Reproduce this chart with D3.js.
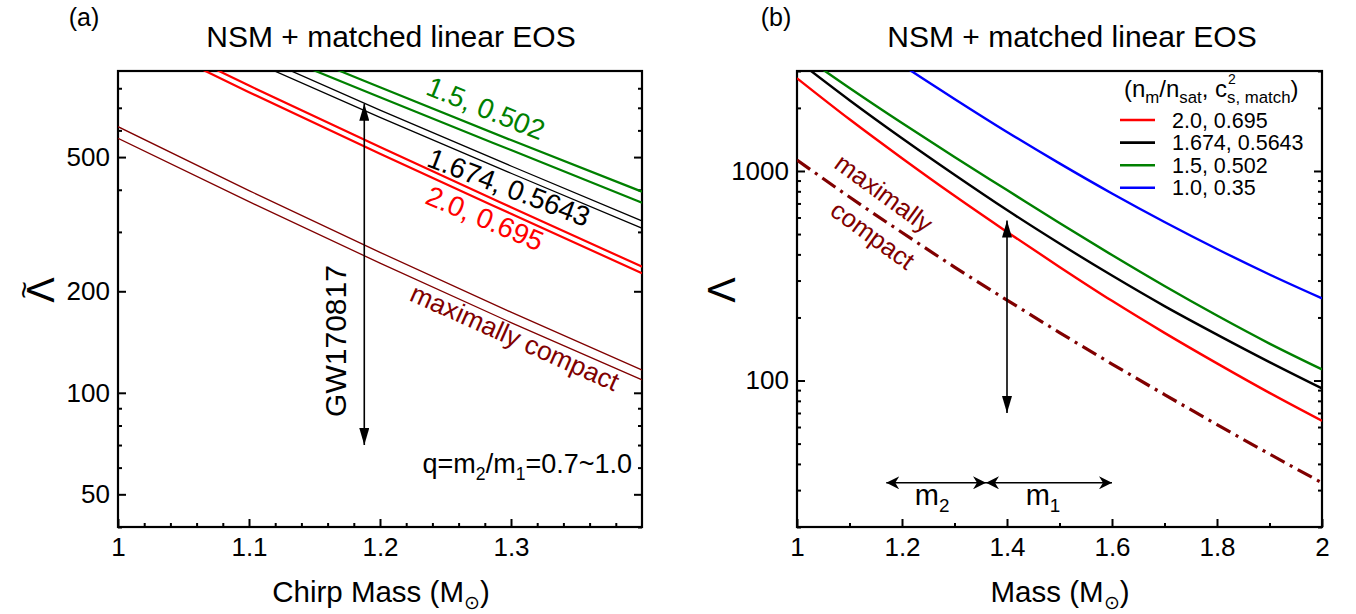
<!DOCTYPE html>
<html>
<head>
<meta charset="utf-8">
<script src="https://cdn.jsdelivr.net/npm/d3@7"></script>
<style>
html,body{margin:0;padding:0;background:#fff;}
svg text{font-family:"Liberation Sans",Arial,Helvetica,sans-serif;}
</style>
</head>
<body>
<svg id="chart" width="1356" height="614"></svg>
<script>
// ---------------- data: panel (a)  (tilde-Lambda vs chirp mass, q = 0.7 and 1.0) ----------------
const chirpMass = [1.0, 1.1, 1.2, 1.3, 1.4];
const lamT_2p0_q07   = [1257, 814.7, 535.4, 355.2, 236.6];
const lamT_2p0_q10   = [1202, 778.8, 511.7, 339.6, 226.2];
const lamT_1p674_q07 = [1532, 1022, 689.4, 470.5, 323.2];
const lamT_1p674_q10 = [1458, 972, 655.7, 447.7, 307.5];
const lamT_1p5_q07   = [1698, 1161, 805.3, 561.5, 394.8];
const lamT_1p5_q10   = [1586, 1084, 752.2, 524.5, 366.4];
const lamT_maxc_q07  = [615.3, 397.8, 260.9, 173.4, 116.9];
const lamT_maxc_q10  = [568.4, 368.9, 242.4, 161.5, 109.2];
const gwChirp = 1.188;
const gwLamTRange = [70, 720];
const chirpTicks = [1, 1.1, 1.2, 1.3];
const lamTTicks = [50, 100, 200, 500];
const lamTMinor = [40, 60, 70, 80, 90, 300, 400, 600, 700, 800];

// ---------------- data: panel (b)  (Lambda vs mass) ----------------
const mass = [1.0, 1.1, 1.2, 1.3, 1.4, 1.5, 1.6, 1.7, 1.8, 1.9, 2.0];
const lam_2p0   = [2769, 1764, 1150, 761, 512, 348.6, 240, 168.8, 120.7, 87.3, 64.2];
const lam_1p674 = [3378, 2177, 1433, 959.6, 651, 450.6, 316.9, 226.6, 165.7, 122.5, 91.7];
const lam_1p5   = [3717, 2489, 1693, 1166, 811, 564, 396.8, 282.4, 204.2, 150.1, 113];
const lam_1p0   = [7070, 4739, 3208, 2208, 1536, 1087, 781, 571, 424.5, 320.7, 246.7];
const lam_maxc  = [1128, 751, 508.6, 348, 242, 169.4, 119.9, 85.7, 61.6, 44.6, 32.5];
const legendLabels = ["2.0, 0.695", "1.674, 0.5643", "1.5, 0.502", "1.0, 0.35"];
const legendColors = ["#ff0000", "#000000", "#008000", "#0000ff"];
const gwMass14 = 1.4;
const gwLam14Range = [70, 580];
const m2Range = [1.17, 1.36];
const m1Range = [1.36, 1.60];
const arrowLam = 32.5;
const massTicks = [1, 1.2, 1.4, 1.6, 1.8, 2];
const massMinor = [1.1, 1.3, 1.5, 1.7, 1.9];
const lamTicks = [100, 1000];
const lamMinor = [20, 30, 40, 50, 60, 70, 80, 90, 200, 300, 400, 500, 600, 700, 800, 900, 2000, 3000];

// ---------------- setup ----------------
const svg = d3.select("#chart");
const FONT = '"Liberation Sans", Arial, Helvetica, sans-serif';
const DARKRED = "#800000";

const xa = d3.scaleLinear().domain([1, 1.4]).range([118, 642]);
const ya = d3.scaleLog().domain([40, 900]).range([527, 71]);
const xb = d3.scaleLinear().domain([1, 2]).range([797, 1322]);
const yb = d3.scaleLog().domain([20, 3000]).range([527, 71]);

const defs = svg.append("defs");
function marker(id, d, w, h) {
  defs.append("marker").attr("id", id)
    .attr("viewBox", `${-w} ${-h / 2} ${w} ${h}`)
    .attr("refX", 0).attr("refY", 0)
    .attr("markerWidth", w).attr("markerHeight", h)
    .attr("markerUnits", "userSpaceOnUse")
    .attr("orient", "auto-start-reverse")
    .append("path").attr("d", d).attr("fill", "#000");
}
marker("tri", "M0,0 L-17,-5 L-17,5 Z", 17, 10);
marker("barb", "M0,0 L-13,-6.5 L-9,0 L-13,6.5 Z", 13, 13);

function clip(id, x, y) {
  defs.append("clipPath").attr("id", id).append("rect")
    .attr("x", x.range()[0]).attr("y", y.range()[1])
    .attr("width", x.range()[1] - x.range()[0])
    .attr("height", y.range()[0] - y.range()[1]);
}
clip("clipA", xa, ya);
clip("clipB", xb, yb);

function drawAxes(x, y, xMajor, xMinor, xFmt, yMajor, yMinor) {
  const [x0, x1] = x.range();
  const [yBot, yTop] = y.range();
  const g = svg.append("g");
  const add = (tr, ax) => g.append("g").attr("transform", tr).call(ax).call(s => s.select(".domain").remove());
  add(`translate(0,${yBot})`, d3.axisBottom(x).tickValues(xMajor).tickFormat(xFmt).tickSize(-8).tickPadding(11));
  add(`translate(0,${yBot})`, d3.axisBottom(x).tickValues(xMinor).tickFormat("").tickSize(-4));
  add(`translate(${x0},0)`, d3.axisLeft(y).tickValues(yMajor).tickFormat(d3.format("d")).tickSize(-8).tickPadding(8));
  add(`translate(${x0},0)`, d3.axisLeft(y).tickValues(yMinor).tickFormat("").tickSize(-4));
  add(`translate(${x1},0)`, d3.axisRight(y).tickValues(yMajor).tickFormat("").tickSize(-8));
  add(`translate(${x1},0)`, d3.axisRight(y).tickValues(yMinor).tickFormat("").tickSize(-4));
  g.selectAll("g").attr("font-family", FONT).attr("font-size", 26);
  g.selectAll(".tick line").attr("stroke", "#000").attr("stroke-width", 2);
  g.selectAll(".tick text").attr("fill", "#000");
  g.append("rect").attr("x", x0).attr("y", yTop).attr("width", x1 - x0).attr("height", yBot - yTop)
    .attr("fill", "none").attr("stroke", "#000").attr("stroke-width", 2.2);
}

// rich text helper: parts = [[string, "n"|"sub"|"sup"], ...]
function rich(sel, parts, size, ratio) {
  ratio = ratio || 0.65;
  let shift = 0;
  parts.forEach(([s, kind]) => {
    const target = kind === "sub" ? size * 0.25 : kind === "sup" ? -size * 0.4 : 0;
    sel.append("tspan").attr("dy", target - shift)
      .attr("font-size", kind === "n" ? size : size * ratio).text(s);
    shift = target;
  });
  return sel;
}
function label(x, y, rot, txt, color, size) {
  return svg.append("text").attr("transform", `translate(${x},${y}) rotate(${rot})`)
    .attr("text-anchor", "middle").attr("dy", "0.36em")
    .attr("fill", color).style("fill", color).attr("font-size", size).text(txt);
}

// ---------------- panel (a) ----------------
drawAxes(xa, ya, chirpTicks,
  d3.range(1.02, 1.4, 0.02).filter(v => Math.abs(v * 10 - Math.round(v * 10)) > 1e-6),
  d => d === 1 ? "1" : d.toFixed(1), lamTTicks, lamTMinor);

const lineA = d3.line().x((d, i) => xa(chirpMass[i])).y(d => ya(d)).curve(d3.curveMonotoneX);
const gA = svg.append("g").attr("clip-path", "url(#clipA)");
[
  [lamT_maxc_q07, DARKRED, 1.3], [lamT_maxc_q10, DARKRED, 1.3],
  [lamT_2p0_q07, "#ff0000", 2.2], [lamT_2p0_q10, "#ff0000", 2.2],
  [lamT_1p674_q07, "#000", 1.3], [lamT_1p674_q10, "#000", 1.3],
  [lamT_1p5_q07, "#008000", 2.2], [lamT_1p5_q10, "#008000", 2.2]
].forEach(([arr, c, w]) => gA.append("path").attr("d", lineA(arr))
  .attr("fill", "none").attr("stroke", c).attr("stroke-width", w));

svg.append("line").attr("x1", xa(gwChirp)).attr("x2", xa(gwChirp))
  .attr("y1", ya(gwLamTRange[0])).attr("y2", ya(gwLamTRange[1]))
  .attr("stroke", "#000").attr("stroke-width", 1.6)
  .attr("marker-start", "url(#tri)").attr("marker-end", "url(#tri)");

label(486, 108, 22, "1.5, 0.502", "#008000", 28);
label(509, 187, 21, "1.674, 0.5643", "#000000", 28);
label(485, 218, 23, "2.0, 0.695", "#ff0000", 28);
label(515, 337, 24, "maximally compact", DARKRED, 26.5);
label(335, 341, -90, "GW170817", "#000000", 30);

rich(svg.append("text").attr("x", 632).attr("y", 473).attr("text-anchor", "end"),
  [["q=m", "n"], ["2", "sub"], ["/m", "n"], ["1", "sub"], ["=0.7~1.0", "n"]], 27);

svg.append("text").attr("x", 391).attr("y", 47).attr("text-anchor", "middle").attr("font-size", 30).text("NSM + matched linear EOS");
svg.append("text").attr("x", 84).attr("y", 26).attr("text-anchor", "middle").attr("font-size", 25).text("(a)");
rich(svg.append("text").attr("x", 381).attr("y", 602).attr("text-anchor", "middle"),
  [["Chirp Mass (M", "n"], ["\u2299", "sub"], [")", "n"]], 29.5);
// y label: Lambda with tilde
svg.append("text").attr("transform", "translate(54,290) rotate(-90)").attr("text-anchor", "middle").attr("font-size", 38).text("\u039B");
svg.append("text").attr("transform", "translate(34,290) rotate(-90)").attr("text-anchor", "middle").attr("font-size", 30).text("~");

// ---------------- panel (b) ----------------
drawAxes(xb, yb, massTicks, massMinor, d => (d === 1 || d === 2) ? String(d) : d.toFixed(1), lamTicks, lamMinor);

const lineB = d3.line().x((d, i) => xb(mass[i])).y(d => yb(d)).curve(d3.curveMonotoneX);
const gB = svg.append("g").attr("clip-path", "url(#clipB)");
gB.append("path").attr("d", lineB(lam_maxc)).attr("fill", "none").attr("stroke", DARKRED)
  .attr("stroke-width", 3.2).attr("stroke-dasharray", "16,6,3,6");
[[lam_1p0, "#0000ff"], [lam_1p5, "#008000"], [lam_1p674, "#000"], [lam_2p0, "#ff0000"]]
  .forEach(([arr, c]) => gB.append("path").attr("d", lineB(arr)).attr("fill", "none")
    .attr("stroke", c).attr("stroke-width", 2.4));

svg.append("line").attr("x1", xb(gwMass14)).attr("x2", xb(gwMass14))
  .attr("y1", yb(gwLam14Range[0])).attr("y2", yb(gwLam14Range[1]))
  .attr("stroke", "#000").attr("stroke-width", 1.6)
  .attr("marker-start", "url(#tri)").attr("marker-end", "url(#tri)");
[m2Range, m1Range].forEach(r => svg.append("line")
  .attr("x1", xb(r[0])).attr("x2", xb(r[1])).attr("y1", yb(arrowLam)).attr("y2", yb(arrowLam))
  .attr("stroke", "#000").attr("stroke-width", 1.4)
  .attr("marker-start", "url(#barb)").attr("marker-end", "url(#barb)"));
rich(svg.append("text").attr("x", xb((m2Range[0] + m2Range[1]) / 2) - 4).attr("y", 505).attr("text-anchor", "middle"),
  [["m", "n"], ["2", "sub"]], 29);
rich(svg.append("text").attr("x", xb((m1Range[0] + m1Range[1]) / 2) - 6).attr("y", 505).attr("text-anchor", "middle"),
  [["m", "n"], ["1", "sub"]], 29);

label(884, 193, 36, "maximally", DARKRED, 25.5);
label(873, 235, 36, "compact", DARKRED, 25.5);

// legend
const legT = rich(svg.append("text").attr("x", 1124).attr("y", 97),
  [["(n", "n"], ["m", "sub"], ["/n", "n"], ["sat", "sub"], [", c", "n"], ["s, match", "sub"], [")", "n"]], 24, 0.7);
const subTs = legT.selectAll("tspan").nodes()[5];
const p = subTs.getStartPositionOfChar(0);
svg.append("text").attr("x", p.x + 1).attr("y", 84).attr("font-size", 14).text("2");
legendLabels.forEach((t, i) => {
  const yy = 120 + i * 22.6;
  svg.append("line").attr("x1", 1120).attr("x2", 1155).attr("y1", yy).attr("y2", yy)
    .attr("stroke", legendColors[i]).attr("stroke-width", 2.6);
  svg.append("text").attr("x", 1172).attr("y", yy + 7.5).attr("font-size", 21.5).text(t);
});

svg.append("text").attr("x", 1072).attr("y", 47).attr("text-anchor", "middle").attr("font-size", 30).text("NSM + matched linear EOS");
svg.append("text").attr("x", 776).attr("y", 26).attr("text-anchor", "middle").attr("font-size", 25).text("(b)");
rich(svg.append("text").attr("x", 1060).attr("y", 602).attr("text-anchor", "middle"),
  [["Mass (M", "n"], ["\u2299", "sub"], [")", "n"]], 29.5);
svg.append("text").attr("transform", "translate(735,290) rotate(-90)").attr("text-anchor", "middle").attr("font-size", 38).text("\u039B");
</script>
</body>
</html>
